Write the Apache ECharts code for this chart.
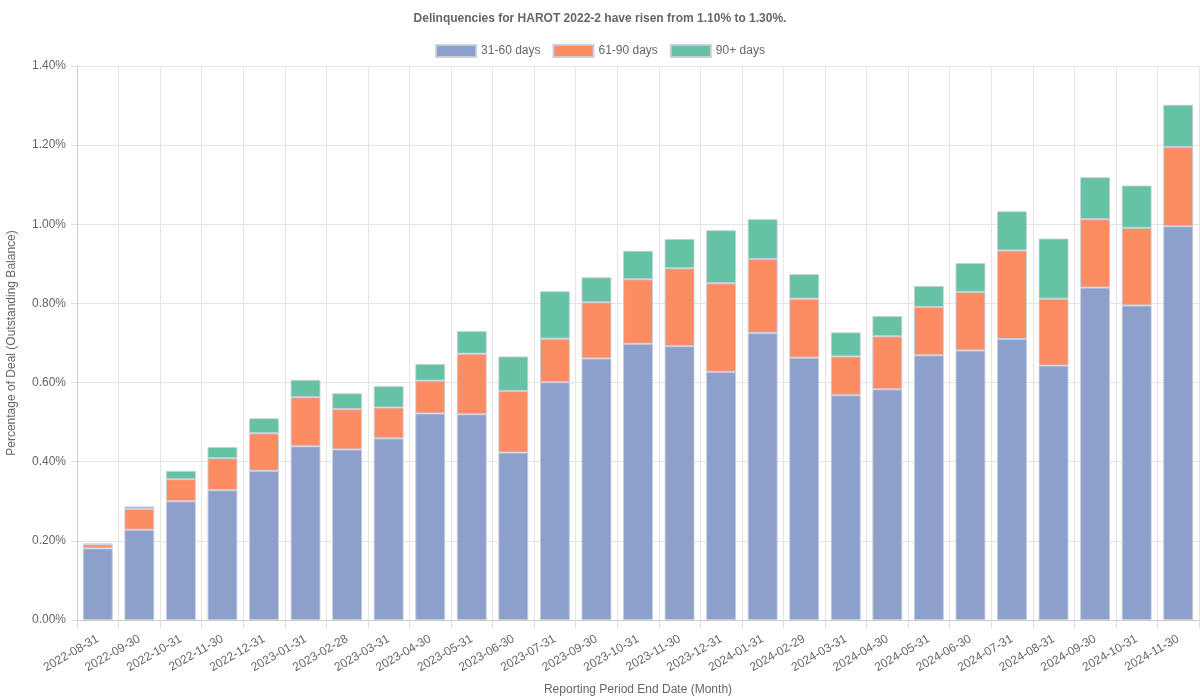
<!DOCTYPE html>
<html>
<head>
<meta charset="utf-8">
<script src="https://cdn.jsdelivr.net/npm/echarts@6/dist/echarts.min.js"></script>
<style>html,body{margin:0;padding:0;background:#fff;}#c{width:1200px;height:700px;}</style>
</head>
<body>
<div id="c"></div>
<script>
const categories = ["2022-08-31","2022-09-30","2022-10-31","2022-11-30","2022-12-31","2023-01-31","2023-02-28","2023-03-31","2023-04-30","2023-05-31","2023-06-30","2023-07-31","2023-09-30","2023-10-31","2023-11-30","2023-12-31","2024-01-31","2024-02-29","2024-03-31","2024-04-30","2024-05-31","2024-06-30","2024-07-31","2024-08-31","2024-09-30","2024-10-31","2024-11-30"];
const days31to60 = [0.181,0.228,0.300,0.328,0.377,0.439,0.431,0.459,0.522,0.520,0.423,0.601,0.661,0.698,0.692,0.627,0.725,0.663,0.568,0.583,0.669,0.681,0.710,0.643,0.840,0.795,0.995];
const days61to90 = [0.010,0.053,0.056,0.081,0.095,0.124,0.102,0.078,0.083,0.153,0.156,0.110,0.142,0.163,0.197,0.224,0.187,0.149,0.098,0.134,0.122,0.148,0.224,0.169,0.173,0.196,0.200];
const days90plus = [0.002,0.006,0.021,0.028,0.038,0.044,0.040,0.054,0.042,0.057,0.087,0.120,0.063,0.072,0.074,0.134,0.101,0.062,0.061,0.051,0.053,0.073,0.099,0.152,0.106,0.107,0.107];
const seriesNames = ["31-60 days","61-90 days","90+ days"];
const colors = ["#8da0cb","#fc8d62","#66c2a5"];
const titleText = "Delinquencies for HAROT 2022-2 have risen from 1.10% to 1.30%.";

const font = "Liberation Sans, Arial, sans-serif";
const chart = echarts.init(document.getElementById('c'));
const mk = (name, data, color) => ({
  name: name, type: 'bar', stack: 'total', data: data,
  barCategoryGap: '28%',
  itemStyle: { color: color, borderColor: 'rgba(200,205,220,0.9)', borderWidth: 1 },
  emphasis: { disabled: true }
});
chart.setOption({
  animation: false,
  textStyle: { fontFamily: font },
  title: {
    text: titleText, left: 'center', top: 8,
    textStyle: { fontSize: 12, fontWeight: 'bold', color: '#666', fontFamily: font }
  },
  legend: {
    top: 39, left: 'center', itemWidth: 40, itemHeight: 12, itemGap: 12,
    textStyle: { fontSize: 12, color: '#666', fontFamily: font },
    icon: 'rect',
    data: seriesNames
  },
  grid: { left: 77, right: 1, top: 66, bottom: 80, containLabel: false, outerBoundsMode: 'none' },
  xAxis: {
    type: 'category', data: categories,
    name: 'Reporting Period End Date (Month)', nameLocation: 'middle', nameGap: 64,
    nameTextStyle: { fontSize: 12, color: '#666', fontFamily: font },
    axisLine: { show: true, lineStyle: { color: '#ccc' } },
    axisTick: { show: true, length: 8, lineStyle: { color: '#ddd' } },
    axisLabel: { rotate: 30, fontSize: 12, color: '#666', margin: 18, fontFamily: font },
    splitLine: { show: true, lineStyle: { color: '#e5e5e5' } }
  },
  yAxis: {
    type: 'value', min: 0, max: 1.4, interval: 0.2,
    name: 'Percentage of Deal (Outstanding Balance)', nameLocation: 'middle', nameGap: 59,
    nameTextStyle: { fontSize: 12, color: '#666', fontFamily: font },
    axisLine: { show: true, lineStyle: { color: '#ccc' } },
    axisTick: { show: true, length: 6, lineStyle: { color: '#ddd' } },
    axisLabel: { fontSize: 12, color: '#666', margin: 11, fontFamily: font, formatter: v => v.toFixed(2) + '%' },
    splitLine: { show: true, lineStyle: { color: '#e5e5e5' } }
  },
  series: [
    mk(seriesNames[0], days31to60, colors[0]),
    mk(seriesNames[1], days61to90, colors[1]),
    mk(seriesNames[2], days90plus, colors[2])
  ]
});
</script>
</body>
</html>
